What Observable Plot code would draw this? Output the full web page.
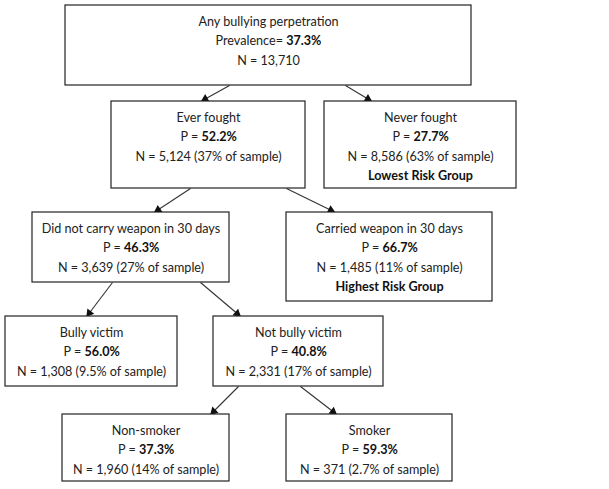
<!DOCTYPE html>
<html><head><meta charset="utf-8">
<script src="https://cdn.jsdelivr.net/npm/d3@7"></script>
<script src="https://cdn.jsdelivr.net/npm/@observablehq/plot@0.6"></script>
<style>body{margin:0;background:#fff}</style>
</head><body><div id="chart"></div>
<script>
// ---- data ----
const nodeLabels = ["Any bullying perpetration", "Ever fought", "Never fought", "Did not carry weapon in 30 days", "Carried weapon in 30 days", "Bully victim", "Not bully victim", "Non-smoker", "Smoker"];
const prevalence = [37.3, 52.2, 27.7, 46.3, 66.7, 56.0, 40.8, 37.3, 59.3];
const sampleN = [13710, 5124, 8586, 3639, 1485, 1308, 2331, 1960, 371];
const sampleShare = [null, "37%", "63%", "27%", "11%", "9.5%", "17%", "14%", "2.7%"];
const notes = ["", "", "Lowest Risk Group", "", "Highest Risk Group", "", "", "", ""];
const parentOf = [null, 0, 0, 1, 1, 3, 3, 6, 6];

// ---- layout (diagram geometry) ----
const boxes = [
  [65, 471, 5, 85], [111, 305, 101, 188], [324, 516, 101, 188],
  [32, 229, 212, 282], [286, 492, 212, 301],
  [5, 177, 316, 386], [213, 383, 316, 386],
  [62, 229, 414, 481], [286, 452, 414, 481]
];
// [startX on parent bottom, endX on child top] for each child node
const edgeX = [null, [229, 202], [345, 370], [190, 155], [286, 333], [112, 87], [200, 239], [238, 211], [300, 335]];

const FONT = "Lato";
const FS = 12.6;
const LH = 19.5;

const ctx = document.createElement("canvas").getContext("2d");
function tw(t, bold) { ctx.font = `${bold ? "bold " : ""}${FS}px ${FONT}`; return ctx.measureText(t).width; }

const fmt = d3.format(",");
const nodes = nodeLabels.map((label, i) => {
  const [x0, x1, y0, y1] = boxes[i];
  const cx = (x0 + x1) / 2;
  const prefix = i === 0 ? "Prevalence= " : "P = ";
  const val = prevalence[i].toFixed(1) + "%";
  const w1 = tw(prefix, false), w2 = tw(val, true);
  const split = cx - (w1 + w2) / 2 + w1;
  return {
    i, label, x0, x1, y0, y1, cx, prefix, val, split,
    nline: "N = " + fmt(sampleN[i]) + (sampleShare[i] ? ` (${sampleShare[i]} of sample)` : ""),
    note: notes[i]
  };
});

const edges = [];
parentOf.forEach((p, i) => {
  if (p === null) return;
  const [sx, ex] = edgeX[i];
  const ys = boxes[p][3], ye = boxes[i][2] - 1;
  const dx = ex - sx, dy = ye - ys, len = Math.hypot(dx, dy);
  const ux = dx / len, uy = dy / len;
  edges.push({ sx, sy: ys, ex, ey: ye, hx: ex - ux * 3, hy: ye - uy * 3, rot: Math.atan2(dx, -dy) * 180 / Math.PI });
});

const plot = Plot.plot({
  width: 609, height: 489,
  margin: 0,
  x: { domain: [0, 609], range: [0, 609], axis: null },
  y: { domain: [0, 489], range: [0, 489], axis: null },
  style: { background: "#fff", fontFamily: FONT },
  marks: [
    Plot.link(edges, { x1: "sx", y1: "sy", x2: "ex", y2: "ey", stroke: "#333", strokeWidth: 1.1 }),
    Plot.dot(edges, { x: "hx", y: "hy", symbol: "triangle", r: 3.2, fill: "#111", stroke: "none", rotate: "rot" }),
    Plot.rect(nodes, { x1: "x0", x2: "x1", y1: "y0", y2: "y1", fill: "#fff", stroke: "#222", strokeWidth: 1.2 }),
    Plot.text(nodes, { x: "cx", y: d => d.y0 + 16, text: "label", fontSize: FS, fill: "#222" }),
    Plot.text(nodes, { x: "split", y: d => d.y0 + 16 + LH, text: "prefix", textAnchor: "end", fontSize: FS, fill: "#222" }),
    Plot.text(nodes, { x: "split", y: d => d.y0 + 16 + LH, text: "val", textAnchor: "start", fontSize: FS, fontWeight: "bold", fill: "#111" }),
    Plot.text(nodes, { x: "cx", y: d => d.y0 + 16 + 2 * LH, text: "nline", fontSize: FS, fill: "#222" }),
    Plot.text(nodes.filter(d => d.note), { x: "cx", y: d => d.y0 + 16 + 3 * LH, text: "note", fontSize: FS, fontWeight: "bold", fill: "#111" })
  ]
});
document.getElementById("chart").appendChild(plot);
</script>
</body></html>
